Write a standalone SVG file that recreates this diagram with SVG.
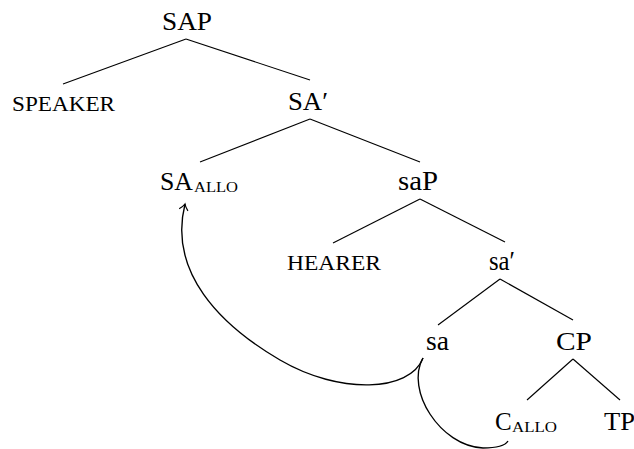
<svg xmlns="http://www.w3.org/2000/svg" width="634" height="449" viewBox="0 0 634 449">
  <defs>
    <style>
      .lbl { font-family: "Liberation Serif", "DejaVu Serif", serif; font-size: 25px; fill: #000; }
      .lc { font-size: 27px; }
      .sc { font-family: "Liberation Serif", "DejaVu Serif", serif; font-size: 21px; fill: #000; }
      .sub { font-family: "Liberation Serif", "DejaVu Serif", serif; font-size: 14px; fill: #000; }
      .edge { stroke: #000; stroke-width: 1.15; fill: none; }
      .move { stroke: #000; stroke-width: 1.35; fill: none; }
    </style>
    <marker id="arrow" viewBox="-7 -5 9 10" markerWidth="9" markerHeight="10" refX="0" refY="0" orient="auto" markerUnits="userSpaceOnUse">
      <path d="M -6 -4.5 Q -2.5 -1 0 0 Q -2.5 1 -6 4.5" stroke="#000" stroke-width="1.2" fill="none"/>
    </marker>
  </defs>

  <!-- tree branches -->
  <g id="connectors">
    <line class="edge" x1="186" y1="39" x2="63" y2="84"/>
    <line class="edge" x1="186" y1="39" x2="310" y2="80"/>
    <line class="edge" x1="310" y1="119" x2="200" y2="162"/>
    <line class="edge" x1="310" y1="119" x2="420" y2="162"/>
    <line class="edge" x1="420" y1="199" x2="333" y2="243"/>
    <line class="edge" x1="420" y1="199" x2="505" y2="242"/>
    <line class="edge" x1="500" y1="279" x2="438" y2="325"/>
    <line class="edge" x1="500" y1="279" x2="573" y2="320"/>
    <line class="edge" x1="573" y1="359" x2="527" y2="400"/>
    <line class="edge" x1="573" y1="359" x2="620" y2="400"/>
    <!-- movement paths -->
    <path class="move" d="M 423 358 C 410 392 340 395 280 360 C 220 325 168 272 185 204" marker-end="url(#arrow)"/>
    <path class="move" d="M 423 358 C 405 390 440 446 483 448 C 495 448 505 446 508 441"/>
  </g>

  <g id="SAP"><text class="lbl" x="162" y="30" textLength="50" lengthAdjust="spacingAndGlyphs">SAP</text></g>
  <g id="SPEAKER"><text class="sc" x="12" y="111" textLength="103" lengthAdjust="spacingAndGlyphs">SPEAKER</text></g>
  <g id="SA-bar"><text class="lbl" x="288" y="110" textLength="40" lengthAdjust="spacingAndGlyphs">SA′</text></g>
  <g id="SA-allo"><text class="lbl" x="160" y="190" textLength="33" lengthAdjust="spacingAndGlyphs">SA</text><text class="sub" x="194" y="192" textLength="44" lengthAdjust="spacingAndGlyphs">ALLO</text></g>
  <g id="saP"><text class="lbl lc" x="398" y="190" textLength="40" lengthAdjust="spacingAndGlyphs">saP</text></g>
  <g id="HEARER"><text class="sc" x="287" y="270" textLength="94" lengthAdjust="spacingAndGlyphs">HEARER</text></g>
  <g id="sa-bar"><text class="lbl lc" x="489" y="270" textLength="26" lengthAdjust="spacingAndGlyphs">sa′</text></g>
  <g id="sa"><text class="lbl lc" x="426" y="350" textLength="23" lengthAdjust="spacingAndGlyphs">sa</text></g>
  <g id="CP"><text class="lbl" x="556" y="350" textLength="36" lengthAdjust="spacingAndGlyphs">CP</text></g>
  <g id="C-allo"><text class="lbl" x="495" y="430">C</text><text class="sub" x="512" y="432" textLength="45" lengthAdjust="spacingAndGlyphs">ALLO</text></g>
  <g id="TP"><text class="lbl" x="604" y="430" textLength="31" lengthAdjust="spacingAndGlyphs">TP</text></g>
</svg>
